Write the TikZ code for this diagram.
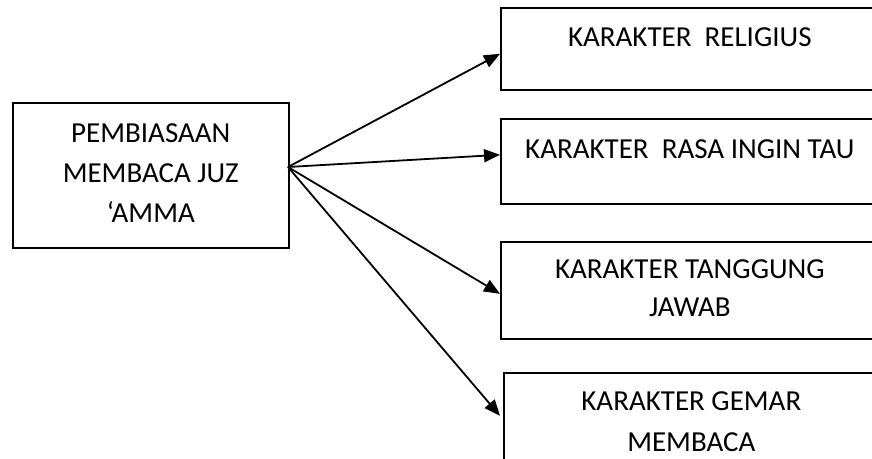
\documentclass[tikz,border=0pt]{standalone}
\usepackage{fontspec}
\setmainfont{Carlito}
\usepackage{tikz}
\usetikzlibrary{calc,arrows.meta}
\tikzset{
    kotak/.style={draw, line width=1.6pt, rectangle, anchor=north west, inner sep=0pt, align=flush center,
                  font=\fontsize{29}{39}\selectfont},
    panah/.style={line width=1.8pt, -{Triangle[length=16pt,width=13pt]}},
  }
\begin{document}
\begin{tikzpicture}[x=1pt,y=-1pt]
				  %ukuran gambar 872 x 458, titik (0,0) di kiri atas
				  \useasboundingbox (0,0) rectangle (872,458);
				  \clip (0,0) rectangle (872,458);
                                    \node[kotak, minimum width=276pt, minimum height=145pt, text width=276pt,
                                          text height=40pt, text depth=105pt, font=\fontsize{29}{40}\selectfont]
                                          (L) at (12,102) {PEMBIASAAN\\MEMBACA JUZ\\`AMMA};
                                    \node[kotak, minimum width=378pt, minimum height=82pt, text width=378pt,
                                          text height=39pt, text depth=43pt] (R1) at (500,7) {KARAKTER\ \ RELIGIUS};
                                    \node[kotak, minimum width=378pt, minimum height=85pt, text width=378pt,
                                          text height=40pt, text depth=45pt] (R2) at (500,118) {KARAKTER\ \ RASA INGIN TAU};
                                    \node[kotak, minimum width=378pt, minimum height=97pt, text width=378pt,
                                          text height=37pt, text depth=60pt, font=\fontsize{29}{38}\selectfont]
                                          (R3) at (500,241) {KARAKTER TANGGUNG\\JAWAB};
                                    \node[kotak, minimum width=375pt, minimum height=110pt, text width=375pt,
                                          text height=38pt, text depth=72pt, font=\fontsize{29}{41}\selectfont]
                                          (R4) at (503,372) {KARAKTER GEMAR\\MEMBACA};
                                    \coordinate (P) at (288,167);
                                    \draw[panah] (P) -- ([yshift=-5pt]R1.west);
                                    \draw[panah] (P) -- ([yshift=6.5pt]R2.west);
                                    \draw[panah] (P) -- ([yshift=-3.5pt]R3.west);
                                    \draw[panah] (P) -- ([xshift=-3pt,yshift=12pt]R4.west);
				  \end{tikzpicture}
\end{document}
